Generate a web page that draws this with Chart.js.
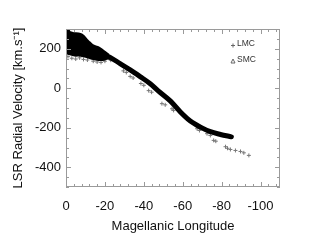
<!DOCTYPE html>
<html><head><meta charset="utf-8">
<script src="https://cdn.jsdelivr.net/npm/chart.js@4/dist/chart.umd.min.js"></script>
<style>html,body{margin:0;padding:0;background:#fff;}</style>
</head><body>
<canvas id="c" width="334" height="246"></canvas>
<script>
// ---- data (Magellanic longitude, LSR velocity km/s) ----
const xTicks = [0, -20, -40, -60, -80, -100];
const yTicks = [-400, -200, 0, 200];

// dense LMC body (upper and lower edges of the black blob)
const lmcBlobTop = [[0,296],[-1,300],[-2,284],[-4,279],[-7,276],[-9,266],[-10.5,248],[-12,234],[-13.5,220],[-15,213],[-17,206],[-18.5,196],[-20,184],[-22,170]];
const lmcBlobBottom = [[0,180],[-1,175],[-3,170],[-5,165],[-7,166],[-9,162],[-11,157],[-12.5,152],[-14,148],[-16,144],[-18,143],[-20,146],[-22,152]];

// dense stream band of LMC points
const lmcBand = [[-17.5,176],[-22.7,156],[-27.8,125],[-33,93],[-38.1,59],[-43.3,23],[-47.4,-13],[-53.6,-64],[-58.8,-120],[-63.9,-166],[-69.1,-197],[-74.2,-220],[-79.4,-234],[-85,-246]];

// scattered LMC points
const lmcScatter = [[-1,160],[-3,152],[-5,148],[-7,154],[-9,146],[-11,143],[-14,137],[-16,133],[-18,131],[-20,137],[-23,142],
  [-29.5,88],[-31,80],[-33,60],[-34.5,52],[-38.5,24],[-40,15],[-42.5,-12],[-44,-20],
  [-49.3,-78],[-51,-84],[-54.5,-104],[-55.3,-112],[-67.4,-205],[-68.6,-214],[-72.5,-230],[-74.2,-239],
  [-75.9,-264],[-77,-268],[-82,-296],[-83,-304],[-84.5,-310],[-87.1,-315],[-89.7,-320],[-91.4,-327],[-94,-340]];

// SMC points (inside the dense body)
const smcScatter = [[-14,195],[-15,180],[-16,170],[-17,190],[-18,175],[-19,165]];

const toXY = a => a.map(p => ({x: p[0], y: p[1]}));

const framePlugin = {
  id: 'frame',
  afterDatasetsDraw(chart) {
    const {ctx, chartArea: a, scales: {x, y}} = chart;
    ctx.save();
    ctx.strokeStyle = '#9a9a9a';
    ctx.lineWidth = 1;
    ctx.strokeRect(a.left + 0.5, a.top + 0.5, a.right - a.left - 1, a.bottom - a.top - 1);
    const seg = (x1, y1, x2, y2) => { ctx.beginPath(); ctx.moveTo(x1, y1); ctx.lineTo(x2, y2); ctx.stroke(); };
    for (let v = 0; v >= x.min; v -= 4) {
      const px = Math.round(x.getPixelForValue(v)) + 0.5;
      const L = (v % 20 === 0) ? 5 : 3;
      seg(px, a.bottom, px, a.bottom - L);
      seg(px, a.top, px, a.top + L);
    }
    for (let v = y.min; v <= y.max; v += 50) {
      const py = Math.round(y.getPixelForValue(v)) + 0.5;
      const L = (v % 200 === 0) ? 5 : 3;
      seg(a.left, py, a.left + L, py);
      seg(a.right, py, a.right - L, py);
    }
    ctx.restore();
  }
};

const legendPlugin = {
  id: 'innerLegend',
  afterDraw(chart) {
    const {ctx, chartArea: a} = chart;
    const items = chart.data.datasets.filter(d => d.inLegend);
    ctx.save();
    ctx.font = '8.5px "Liberation Sans", Arial, sans-serif';
    ctx.textBaseline = 'middle';
    ctx.fillStyle = '#333';
    items.forEach((d, i) => {
      const yy = a.top + 15 + i * 15.5;
      const sx = a.right - 47;
      ctx.strokeStyle = '#666';
      ctx.lineWidth = 1;
      if (d.pointStyle === 'cross') {
        ctx.beginPath();
        ctx.moveTo(sx - 2, yy + 1.5); ctx.lineTo(sx + 2, yy + 1.5);
        ctx.moveTo(sx, yy - 0.5); ctx.lineTo(sx, yy + 3.5);
        ctx.stroke();
      } else {
        ctx.beginPath();
        ctx.moveTo(sx - 2, yy + 3.5); ctx.lineTo(sx + 2, yy + 3.5); ctx.lineTo(sx, yy - 0.5); ctx.closePath();
        ctx.stroke();
      }
      ctx.fillText(d.label, sx + 4, yy);
    });
    ctx.restore();
  }
};

const fontFam = '"Liberation Sans", Arial, Helvetica, sans-serif';

new Chart(document.getElementById('c'), {
  type: 'line',
  data: {
    datasets: [
      {label: 'LMC body top', data: toXY(lmcBlobTop), borderColor: '#000', backgroundColor: '#000', borderWidth: 2, pointRadius: 0, fill: '+1', tension: 0.2},
      {label: 'LMC body bottom', data: toXY(lmcBlobBottom), borderColor: '#000', backgroundColor: '#000', borderWidth: 2, pointRadius: 0, fill: false, tension: 0.2},
      {label: 'LMC stream', data: toXY(lmcBand), borderColor: '#000', borderWidth: 5, borderCapStyle: 'round', borderJoinStyle: 'round', pointRadius: 0, fill: false, cubicInterpolationMode: 'monotone'},
      {label: 'LMC', inLegend: true, data: toXY(lmcScatter), showLine: false, pointStyle: 'cross', pointRadius: 2, borderColor: '#777', backgroundColor: '#777', borderWidth: 1},
      {label: 'SMC', inLegend: true, data: toXY(smcScatter), showLine: false, pointStyle: 'triangle', pointRadius: 2, borderColor: '#000', backgroundColor: 'rgba(0,0,0,0)', borderWidth: 1}
    ]
  },
  options: {
    responsive: false, animation: false, devicePixelRatio: 1,
    layout: {padding: {left: 0, right: 54, top: 29, bottom: 0}},
    plugins: {legend: {display: false}, tooltip: {enabled: false}},
    scales: {
      x: {
        type: 'linear', min: -110, max: 0, reverse: true,
        grid: {display: false, drawTicks: false}, border: {display: false},
        afterBuildTicks: s => { s.ticks = xTicks.map(v => ({value: v})); },
        afterFit: s => { s.height = 59; },
        ticks: {font: {family: fontFam, size: 13}, color: '#111', padding: 12, maxRotation: 0, autoSkip: false, callback: v => String(v)},
        title: {display: true, text: 'Magellanic Longitude', font: {family: fontFam, size: 13}, color: '#111', padding: {top: 0, bottom: 12}}
      },
      y: {
        type: 'linear', min: -500, max: 300,
        grid: {display: false, drawTicks: false}, border: {display: false},
        afterBuildTicks: s => { s.ticks = yTicks.map(v => ({value: v})); },
        afterFit: s => { s.width = 66; },
        ticks: {font: {family: fontFam, size: 13}, color: '#111', padding: 5, autoSkip: false, callback: v => String(v)},
        title: {display: true, text: 'LSR Radial Velocity [km.s\u207B\u00B9]', font: {family: fontFam, size: 13}, color: '#111', padding: {top: 11, bottom: 0}}
      }
    }
  },
  plugins: [framePlugin, legendPlugin]
});
</script>
</body></html>
